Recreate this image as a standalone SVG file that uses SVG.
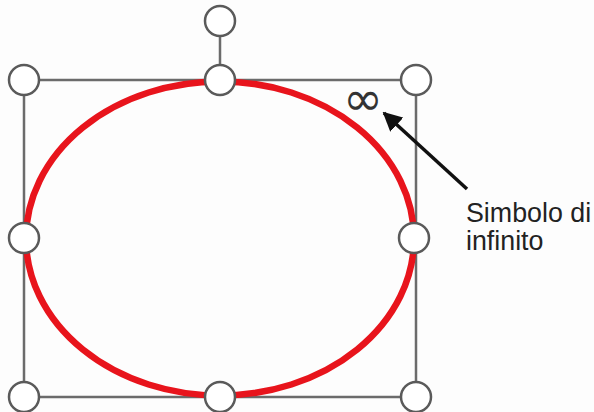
<svg xmlns="http://www.w3.org/2000/svg" width="594" height="412" viewBox="0 0 594 412">
<style>
.frame{fill:none;stroke:#6b6b6b;stroke-width:2.5}
.h{fill:#fff;stroke:#5a5a5a;stroke-width:2.5}
.lbl{font-family:"Liberation Sans",Arial,sans-serif;font-size:26.8px;fill:#222}
</style>
<defs>
<marker id="ah" viewBox="0 0 10 10" refX="9" refY="5" markerWidth="5.5" markerHeight="5.5" orient="auto" markerUnits="strokeWidth">
<path d="M0,0 L10,5 L0,10 z" fill="#111"/>
</marker>
</defs>
<rect width="594" height="412" fill="#fdfdfd"/>
<g id="frame">
<rect class="frame" x="24" y="80" width="392" height="317"/>
<line class="frame" x1="220" y1="37" x2="220" y2="66"/>
</g>
<g id="ellipse">
<ellipse cx="220" cy="238.5" rx="194" ry="157" fill="none" stroke="#e8141c" stroke-width="6.5"/>
</g>
<g id="handles">
<circle class="h" cx="220" cy="21" r="15"/>
<circle class="h" cx="24" cy="80" r="15"/>
<circle class="h" cx="220" cy="80" r="15"/>
<circle class="h" cx="416" cy="80" r="15"/>
<circle class="h" cx="24" cy="238" r="15"/>
<circle class="h" cx="414" cy="238" r="15"/>
<circle class="h" cx="24" cy="397" r="15"/>
<circle class="h" cx="220" cy="397" r="15"/>
<circle class="h" cx="416" cy="397" r="15"/>
</g>
<g id="infinity">
<text x="363" y="115" text-anchor="middle" font-family="'DejaVu Sans','Liberation Sans',sans-serif" font-size="48" fill="#333">∞</text>
</g>
<g id="connectors">
<line x1="467" y1="189" x2="384" y2="113" stroke="#111" stroke-width="3.5" marker-end="url(#ah)"/>
</g>
<g id="label">
<text class="lbl" x="466" y="222">Simbolo di</text>
<text class="lbl" x="466" y="250">infinito</text>
</g>
</svg>
